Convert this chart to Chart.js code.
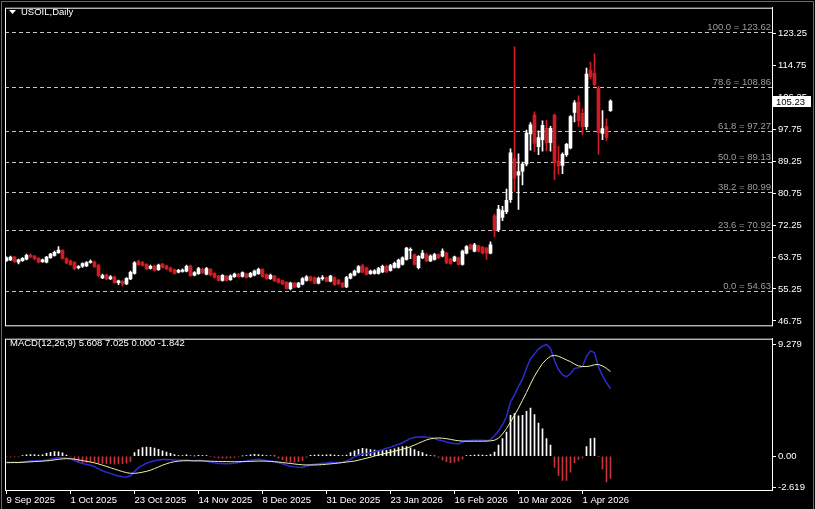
<!DOCTYPE html>
<html>
<head>
<meta charset="utf-8">
<script src="https://cdn.jsdelivr.net/npm/chart.js@4.4.1/dist/chart.umd.min.js"></script>
<style>
body { margin: 0; background: #000; width: 815px; height: 509px; overflow: hidden; position: relative; }
#frame { position: absolute; left: 1px; top: 1px; width: 811px; height: 520px; border: 1px solid #6a6a6a; }
#main { position: absolute; left: 0; top: 0; }
#macd { position: absolute; left: 0; top: 331px; }
</style>
</head>
<body>
<div id="frame"></div>
<canvas id="main" width="815" height="333"></canvas>
<canvas id="macd" width="815" height="178"></canvas>
<script>
// daily bars, 9 Sep 2025 .. Apr 2026
const opens = [62.8,63.0,63.7,62.4,62.8,63.2,64.3,64.0,63.4,62.5,
  62.4,63.6,64.2,64.9,65.5,63.3,62.7,62.3,60.9,61.3,
  61.4,62.3,62.4,61.5,58.2,59.0,57.9,58.5,56.9,57.3,
  56.6,57.9,59.4,62.6,62.3,61.8,60.7,61.4,60.4,61.9,
  61.4,60.9,60.4,59.7,59.9,60.0,61.4,58.9,59.3,60.5,
  59.2,60.5,59.4,58.7,57.5,58.7,57.7,58.5,59.2,58.6,
  59.3,58.5,58.9,59.3,60.4,59.1,58.0,58.7,57.9,57.5,
  57.0,55.3,56.8,55.8,56.5,57.5,58.5,58.3,56.8,58.0,
  58.3,57.3,58.3,57.6,56.8,55.8,58.1,58.9,59.7,61.5,
  60.9,59.3,59.4,59.4,59.8,61.3,60.2,61.0,61.0,61.8,
  63.1,65.5,64.4,60.9,63.5,64.4,62.7,63.1,64.4,64.0,
  64.8,63.2,62.7,63.5,61.8,64.8,67.0,65.3,66.7,66.4,
  66.1,64.8,74.7,71.0,74.3,75.8,79.0,90.0,85.5,86.6,
  88.5,96.5,101.6,93.1,95.0,98.0,94.2,101.5,89.3,88.1,
  91.0,92.8,102.2,105.0,102.0,98.4,113.5,112.6,108.7,96.6,
  98.5,102.7];
const highs = [63.8,64.0,63.9,63.2,63.6,64.5,64.6,64.2,63.6,63.2,
  63.9,64.7,65.3,66.5,65.7,63.5,62.9,62.5,61.5,62.2,
  62.5,63.0,62.7,61.8,59.2,59.2,58.8,58.7,57.6,57.5,
  58.3,60.0,62.5,62.9,62.6,62.0,61.6,61.6,61.9,62.1,
  61.6,61.1,60.6,60.5,60.6,61.6,61.6,59.9,61.0,60.8,
  61.0,60.7,59.6,58.9,59.1,58.9,59.0,59.5,59.4,59.8,
  59.5,59.7,60.3,60.8,60.7,59.3,59.2,58.9,58.1,57.7,
  57.2,57.1,57.0,57.0,58.3,58.8,58.7,58.5,58.4,58.8,
  58.5,58.9,58.5,57.8,57.0,58.6,59.5,60.3,61.5,61.8,
  61.1,60.3,60.4,61.0,61.6,61.6,61.8,62.4,63.2,63.8,
  66.3,66.2,64.6,64.1,65.5,64.8,64.3,64.7,64.6,65.9,
  65.0,63.4,64.0,63.7,65.6,66.8,67.2,67.4,66.9,66.6,
  66.3,67.8,75.2,77.5,77.2,81.8,92.5,119.7,91.2,89.0,
  97.5,99.5,102.4,97.3,100.0,100.1,98.5,101.8,93.2,91.5,
  94.0,101.4,105.4,106.6,103.2,114.0,115.6,117.8,109.2,102.7,
  100.5,105.6];
const lows = [62.6,62.8,62.3,61.9,62.6,63.0,63.6,63.0,62.2,62.3,
  62.2,63.4,64.0,64.7,63.2,62.0,61.5,60.4,60.6,61.0,
  61.2,62.1,61.0,58.5,58.0,57.7,57.7,56.7,56.4,56.0,
  56.4,57.7,59.2,61.5,61.3,60.4,60.5,60.0,60.2,60.8,
  60.4,59.8,59.2,59.5,59.7,59.8,58.6,58.7,59.1,59.4,
  59.0,58.7,58.1,57.3,57.3,57.3,57.5,58.3,58.3,58.4,
  58.1,58.3,58.7,59.1,58.3,57.8,57.8,57.2,56.8,56.4,
  55.1,55.0,55.5,55.6,56.3,57.3,57.3,56.6,56.6,57.6,
  57.1,57.1,56.2,56.4,55.6,55.6,57.9,58.7,59.5,59.5,
  58.9,59.1,59.2,59.2,59.6,59.6,60.0,60.8,60.8,61.6,
  62.9,63.3,61.6,60.6,63.3,62.5,62.5,62.9,63.3,63.8,
  62.0,61.8,62.5,61.6,61.6,64.6,65.7,65.1,65.1,64.6,
  63.1,64.6,69.1,70.5,73.4,75.3,78.3,81.2,76.4,82.9,
  88.0,92.2,91.8,91.0,91.9,92.0,91.9,84.3,85.8,85.9,
  90.5,92.5,99.7,98.5,96.3,97.6,111.2,109.2,91.1,95.0,
  94.8,102.5];
const closes = [63.5,63.7,62.5,63.0,63.4,64.2,63.8,63.3,62.4,63.0,
  63.7,64.5,65.0,65.6,63.4,62.2,61.7,60.6,61.2,62.0,
  62.3,62.6,61.2,58.8,58.8,57.9,58.5,56.9,57.4,56.6,
  58.1,59.7,62.2,61.7,61.5,60.6,61.3,60.2,61.6,61.0,
  60.6,60.0,59.4,60.2,60.3,61.3,58.8,59.6,60.7,59.6,
  60.7,58.9,58.3,57.5,58.9,57.5,58.7,59.2,58.5,59.6,
  58.3,59.4,60.0,60.5,58.5,58.0,58.9,57.4,57.0,56.6,
  55.4,56.8,55.7,56.8,58.0,58.5,57.5,56.8,58.1,58.3,
  57.3,58.7,56.4,56.6,55.8,58.3,59.2,60.0,61.2,59.7,
  59.1,60.0,60.1,60.7,61.3,59.8,61.5,62.1,62.9,63.5,
  66.1,65.8,61.8,63.9,64.8,62.7,64.0,64.4,63.5,65.3,
  62.2,62.0,63.8,61.8,65.3,66.5,65.9,67.0,65.3,64.8,
  64.8,67.0,70.8,76.5,76.1,78.8,91.5,84.7,86.5,88.5,
  96.7,98.9,94.0,95.5,98.8,94.1,98.0,88.8,88.0,91.1,
  93.7,101.1,104.8,100.0,98.4,112.4,111.7,109.6,96.8,97.9,
  95.6,105.23];

// MACD(12,26,9) as drawn
const macdMain = [-0.50,-0.49,-0.50,-0.52,-0.48,-0.44,-0.40,-0.38,-0.38,-0.36,
  -0.30,-0.25,-0.18,-0.12,-0.10,-0.15,-0.22,-0.35,-0.50,-0.60,
  -0.68,-0.75,-0.85,-1.05,-1.20,-1.32,-1.42,-1.55,-1.63,-1.70,
  -1.73,-1.62,-1.25,-0.95,-0.75,-0.58,-0.46,-0.38,-0.30,-0.27,
  -0.27,-0.28,-0.30,-0.32,-0.32,-0.30,-0.35,-0.38,-0.33,-0.36,
  -0.42,-0.48,-0.54,-0.60,-0.60,-0.62,-0.60,-0.57,-0.52,-0.45,
  -0.40,-0.33,-0.28,-0.25,-0.30,-0.36,-0.40,-0.46,-0.54,-0.62,
  -0.75,-0.82,-0.88,-0.92,-0.93,-0.80,-0.72,-0.66,-0.62,-0.58,
  -0.56,-0.50,-0.52,-0.52,-0.50,-0.40,-0.24,-0.05,0.10,0.18,
  0.22,0.30,0.38,0.45,0.55,0.67,0.76,0.88,1.00,1.12,
  1.30,1.48,1.55,1.60,1.62,1.58,1.55,1.47,1.35,1.28,
  1.18,1.10,1.07,1.02,1.20,1.28,1.30,1.32,1.33,1.33,
  1.30,1.38,1.70,2.10,2.60,3.30,4.50,5.10,5.80,6.40,
  7.30,8.10,8.50,8.90,9.15,9.279,8.95,7.95,7.20,6.75,
  6.60,6.85,7.30,7.35,7.45,8.30,8.75,8.60,7.40,6.70,
  6.10,5.608];
const macdSignal = [-0.53,-0.53,-0.52,-0.52,-0.50,-0.48,-0.46,-0.44,-0.42,-0.40,
  -0.38,-0.35,-0.30,-0.25,-0.22,-0.20,-0.20,-0.24,-0.30,-0.36,
  -0.42,-0.48,-0.55,-0.64,-0.74,-0.84,-0.95,-1.06,-1.17,-1.27,
  -1.36,-1.41,-1.42,-1.38,-1.32,-1.25,-1.16,-1.02,-0.88,-0.74,
  -0.62,-0.52,-0.45,-0.40,-0.38,-0.37,-0.37,-0.38,-0.38,-0.39,
  -0.40,-0.41,-0.42,-0.43,-0.44,-0.44,-0.45,-0.45,-0.45,-0.44,
  -0.43,-0.42,-0.41,-0.40,-0.40,-0.41,-0.43,-0.45,-0.48,-0.52,
  -0.56,-0.60,-0.64,-0.68,-0.71,-0.72,-0.72,-0.72,-0.71,-0.69,
  -0.66,-0.63,-0.60,-0.56,-0.52,-0.48,-0.44,-0.40,-0.32,-0.24,
  -0.16,-0.08,0.02,0.10,0.18,0.27,0.34,0.42,0.50,0.58,
  0.68,0.80,0.93,1.08,1.22,1.36,1.45,1.50,1.52,1.50,
  1.46,1.40,1.34,1.29,1.26,1.25,1.25,1.25,1.25,1.25,
  1.26,1.28,1.33,1.50,1.85,2.30,2.85,3.40,4.00,4.65,
  5.30,6.00,6.65,7.20,7.70,8.05,8.30,8.38,8.30,8.15,
  8.00,7.85,7.65,7.50,7.45,7.45,7.50,7.60,7.62,7.50,
  7.30,7.025];
const macdHist = [-0.06,-0.05,-0.06,-0.05,0.05,0.12,0.15,0.14,0.10,0.12,
  0.25,0.32,0.38,0.36,0.28,0.10,-0.05,-0.30,-0.50,-0.56,
  -0.52,-0.48,-0.50,-0.58,-0.60,-0.62,-0.64,-0.66,-0.64,-0.62,
  -0.58,-0.45,0.30,0.55,0.72,0.76,0.75,0.68,0.58,0.45,
  0.35,0.25,0.15,0.05,0.06,0.12,0.04,0.03,0.08,0.06,
  0.05,-0.04,-0.08,-0.14,-0.15,-0.16,-0.14,-0.10,-0.06,0.02,
  0.05,0.12,0.16,0.14,0.10,0.06,0.04,0.02,-0.15,-0.28,
  -0.45,-0.52,-0.50,-0.44,-0.36,-0.10,0.08,0.10,0.12,0.10,
  0.12,0.15,0.10,0.08,0.05,0.10,0.30,0.45,0.58,0.66,
  0.62,0.55,0.52,0.50,0.48,0.50,0.55,0.62,0.72,0.80,
  0.80,0.70,0.55,0.40,0.30,0.15,0.05,0.02,-0.10,-0.30,
  -0.45,-0.53,-0.50,-0.40,-0.25,0.05,0.08,0.10,0.12,0.10,
  0.08,0.15,0.35,0.93,1.47,2.00,3.39,3.55,3.36,3.40,
  3.73,4.00,3.47,2.75,2.27,1.47,0.93,-0.93,-1.60,-2.00,
  -2.00,-1.33,-0.53,-0.27,-0.13,0.80,1.47,1.52,-0.02,-1.07,
  -2.13,-1.842];

const priceTicks = [123.25, 114.75, 106.25, 97.75, 89.25, 80.75, 72.25, 63.75, 55.25, 46.75];
const macdTicks = [9.279, 0, -2.619];
const fibLevels = [100.0, 78.6, 61.8, 50.0, 38.2, 23.6, 0.0];
const fibPrices = [123.62, 108.86, 97.27, 89.13, 80.99, 70.92, 54.63];
const dateTickIdx = [0, 16, 32, 48, 64, 80, 96, 112, 128, 144];
const dateTickLabels = ['9 Sep 2025', '1 Oct 2025', '23 Oct 2025', '14 Nov 2025', '8 Dec 2025',
  '31 Dec 2025', '23 Jan 2026', '16 Feb 2026', '10 Mar 2026', '1 Apr 2026'];

const FONT = '"Liberation Sans"';
const bull = '#ffffff', bear = '#d01c22';
const xMin = -0.375, xMax = 191.375;

const colors = closes.map((c, i) => c >= opens[i] ? bull : bear);
const wicks = closes.map((c, i) => ({x: i, y: [lows[i], highs[i]]}));
const bodies = closes.map((c, i) => ({x: i, y: [opens[i], c]}));

const frame = {
    id: 'frame',
    afterDraw(chart) {
        const a = chart.chartArea, ctx = chart.ctx;
        ctx.save();
        ctx.strokeStyle = '#fff';
        ctx.lineWidth = 1;
        ctx.strokeRect(a.left + 0.5, a.top + 0.5, a.right - a.left, a.bottom - a.top);
        ctx.restore();
    }
};

const fib = {
    id: 'fib',
    beforeDatasetsDraw(chart) {
        const a = chart.chartArea, ctx = chart.ctx, y = chart.scales.y;
        ctx.save();
        ctx.strokeStyle = '#c4c4c4';
        ctx.lineWidth = 1;
        ctx.setLineDash([4, 3]);
        ctx.font = '9.5px ' + FONT;
        ctx.fillStyle = '#9d9d9d';
        ctx.textAlign = 'right';
        fibPrices.forEach((p, k) => {
            const py = Math.round(y.getPixelForValue(p)) + 0.5;
            ctx.beginPath();
            ctx.moveTo(a.left, py);
            ctx.lineTo(a.right, py);
            ctx.stroke();
            ctx.fillText(fibLevels[k].toFixed(1) + ' = ' + p.toFixed(2), a.right - 1, py - 2.5);
        });
        ctx.restore();
    },
    afterDraw(chart) {
        const ctx = chart.ctx, y = chart.scales.y;
        ctx.save();
        // title
        ctx.fillStyle = '#fff';
        ctx.beginPath();
        ctx.moveTo(9, 10); ctx.lineTo(16, 10); ctx.lineTo(12.5, 14); ctx.closePath();
        ctx.fill();
        ctx.font = '9.5px ' + FONT;
        ctx.fillText('USOIL,Daily', 21, 15);
        // last price box
        const last = closes[closes.length - 1];
        const py = Math.round(y.getPixelForValue(last));
        ctx.fillRect(773, py - 5, 38, 11);
        ctx.fillStyle = '#000';
        ctx.fillText(last.toFixed(2), 776, py + 4);
        ctx.restore();
    }
};

new Chart(document.getElementById('main'), {
    type: 'bar',
    data: {
        datasets: [
            {data: wicks, backgroundColor: colors, barThickness: 1, grouped: false, borderWidth: 0},
            {data: bodies, backgroundColor: colors, barThickness: 3, grouped: false, borderWidth: 0, minBarLength: 1}
        ]
    },
    options: {
        responsive: false,
        animation: false,
        events: [],
        layout: {padding: {left: 5, top: 4, right: 0, bottom: 2}},
        plugins: {legend: {display: false}, tooltip: {enabled: false}},
        scales: {
            x: {type: 'linear', display: false, offset: false, min: xMin, max: xMax},
            y: {
                position: 'right', min: 45.58, max: 130.08,
                afterBuildTicks: s => { s.ticks = priceTicks.map(v => ({value: v})); },
                afterFit: s => { s.width = 43; },
                ticks: {color: '#fff', font: {family: FONT, size: 9.5}, padding: 2, autoSkip: false,
                    callback: v => v.toFixed(2)},
                grid: {drawOnChartArea: false, drawTicks: true, tickLength: 4, color: '#fff'},
                border: {display: true, color: '#fff'}
            }
        }
    },
    plugins: [fib, frame]
});

const macdLabel = {
    id: 'macdLabel',
    afterDraw(chart) {
        const ctx = chart.ctx;
        ctx.save();
        ctx.fillStyle = '#fff';
        ctx.font = '9.5px ' + FONT;
        ctx.fillText('MACD(12,26,9) ' + macdMain[macdMain.length - 1].toFixed(3) + ' ' +
            macdSignal[macdSignal.length - 1].toFixed(3) + ' 0.000 ' +
            macdHist[macdHist.length - 1].toFixed(3), 10, 14.5);
        ctx.restore();
    }
};

new Chart(document.getElementById('macd'), {
    type: 'bar',
    data: {
        datasets: [
            {type: 'line', data: macdSignal.map((v, i) => ({x: i, y: v})), borderColor: '#f2f2a6',
                borderWidth: 1, pointRadius: 0, tension: 0},
            {type: 'line', data: macdMain.map((v, i) => ({x: i, y: v})), borderColor: '#2b2bd2',
                borderWidth: 1.5, pointRadius: 0, tension: 0},
            {data: macdHist.map((v, i) => ({x: i, y: v})), barThickness: 1, grouped: false, borderWidth: 0,
                backgroundColor: macdHist.map(v => v >= 0 ? '#ffffff' : '#c8333a')}
        ]
    },
    options: {
        responsive: false,
        animation: false,
        events: [],
        layout: {padding: {left: 5, top: 2, right: 0, bottom: 0}},
        plugins: {legend: {display: false}, tooltip: {enabled: false}},
        scales: {
            x: {
                type: 'linear', offset: false, min: xMin, max: xMax,
                afterBuildTicks: s => { s.ticks = dateTickIdx.map(v => ({value: v})); },
                afterFit: s => { s.height = 19; },
                ticks: {color: '#fff', font: {family: FONT, size: 9.5}, padding: 1, align: 'start',
                    autoSkip: false, maxRotation: 0, callback: (v, k) => dateTickLabels[k]},
                grid: {drawOnChartArea: false, drawTicks: true, tickLength: 4, color: '#fff', offset: false},
                border: {display: true, color: '#fff'}
            },
            y: {
                position: 'right', min: -2.8, max: 9.76,
                afterBuildTicks: s => { s.ticks = macdTicks.map(v => ({value: v})); },
                afterFit: s => { s.width = 43; },
                ticks: {color: '#fff', font: {family: FONT, size: 9.5}, padding: 2, autoSkip: false,
                    callback: v => v === 0 ? '0.00' : v.toFixed(3)},
                grid: {drawOnChartArea: false, drawTicks: true, tickLength: 4, color: '#fff'},
                border: {display: true, color: '#fff'}
            }
        }
    },
    plugins: [macdLabel, frame]
});
</script>
</body>
</html>
